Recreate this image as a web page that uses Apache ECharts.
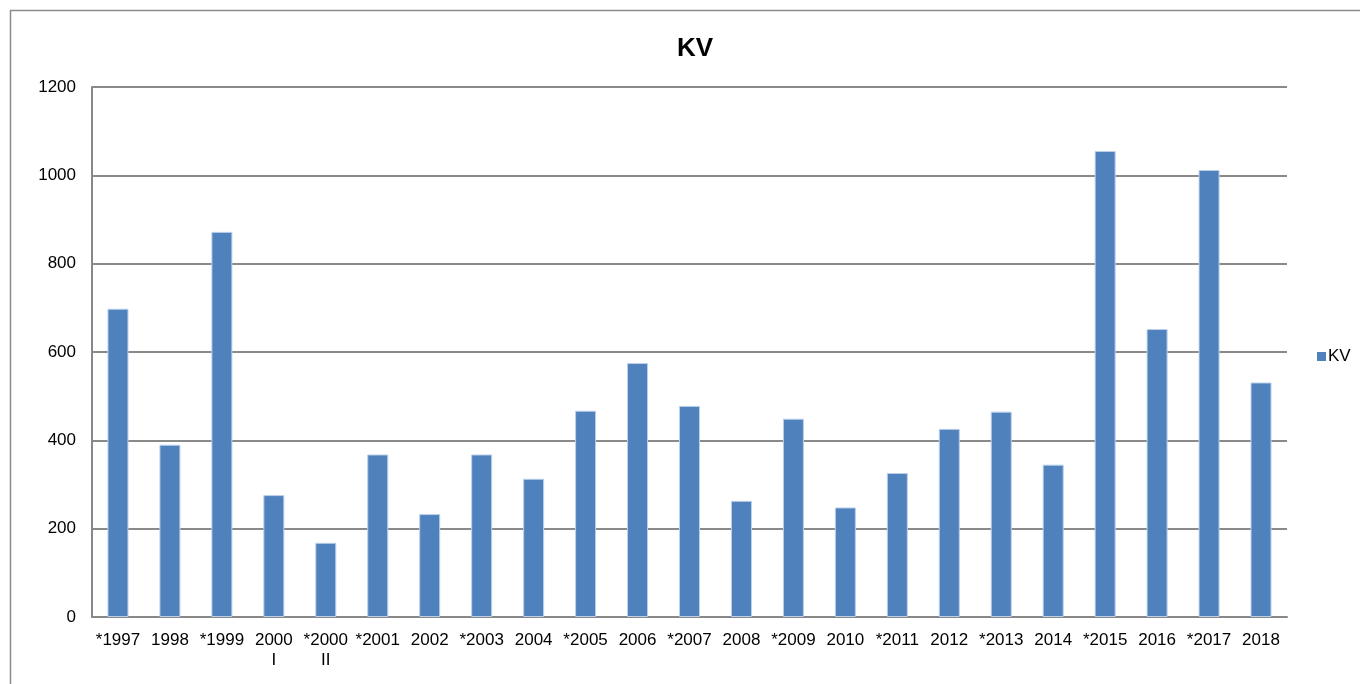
<!DOCTYPE html>
<html>
<head>
<meta charset="utf-8">
<script src="https://cdn.jsdelivr.net/npm/echarts@6/dist/echarts.min.js"></script>
<style>
  html, body { margin: 0; padding: 0; background: #fff; }
  #chart { width: 1360px; height: 684px; }
</style>
</head>
<body>
<div id="chart"></div>
<script>
// categories and values
const categories = ['*1997', '1998', '*1999', '2000\nI', '*2000\nII', '*2001', '2002', '*2003', '2004', '*2005', '2006', '*2007',
  '2008', '*2009', '2010', '*2011', '2012', '*2013', '2014', '*2015', '2016', '*2017', '2018']
const kvValues = [698, 390, 872, 276, 168, 368, 233, 368, 313, 467, 575, 478,
  263, 449, 248, 326, 426, 465, 345, 1055, 652, 1012, 531]
const yTicks = { min: 0, max: 1200, interval: 200 }

const chart = echarts.init(document.getElementById('chart'))
const font = 'Liberation Sans, Arial, sans-serif'

chart.setOption({
  backgroundColor: '#fff',
  animation: false,
  graphic: [
    {
      type: 'rect',
      shape: { x: 10.5, y: 10.5, width: 1360, height: 690 },
      style: { fill: 'none', stroke: '#8c8c8c', lineWidth: 1.5 },
      silent: true
    }
  ],
  title: {
    text: 'KV',
    left: 690,
    top: 31,
    textAlign: 'center',
    textStyle: { fontFamily: font, fontSize: 26, fontWeight: 'bold', color: '#000' }
  },
  legend: {
    left: 1312,
    top: 343,
    itemWidth: 9,
    itemHeight: 9,
    itemGap: 4,
    icon: 'rect',
    itemStyle: { borderWidth: 0 },
    textStyle: { fontFamily: font, fontSize: 17, color: '#000', padding: [0, 0, 0, -3] }
  },
  grid: { left: 92, right: 73, top: 87, bottom: 67, containLabel: false },
  xAxis: {
    type: 'category',
    data: categories,
    axisLine: { lineStyle: { color: '#888', width: 2 } },
    axisTick: { show: false },
    axisLabel: {
      fontFamily: font,
      fontSize: 17,
      color: '#000',
      margin: 13,
      lineHeight: 20,
      interval: 0
    }
  },
  yAxis: {
    type: 'value',
    min: yTicks.min,
    max: yTicks.max,
    interval: yTicks.interval,
    axisLine: { show: true, lineStyle: { color: '#888', width: 2 } },
    axisTick: { show: false },
    splitLine: { lineStyle: { color: '#8a8a8a', width: 2 } },
    axisLabel: {
      fontFamily: font,
      fontSize: 17,
      color: '#000',
      margin: 16,
      formatter: v => String(v)
    }
  },
  series: [
    {
      name: 'KV',
      type: 'bar',
      data: kvValues,
      barWidth: 21,
      itemStyle: { color: '#4f81bd', borderColor: '#bcd0ea', borderWidth: 1 }
    }
  ]
})
</script>
</body>
</html>
